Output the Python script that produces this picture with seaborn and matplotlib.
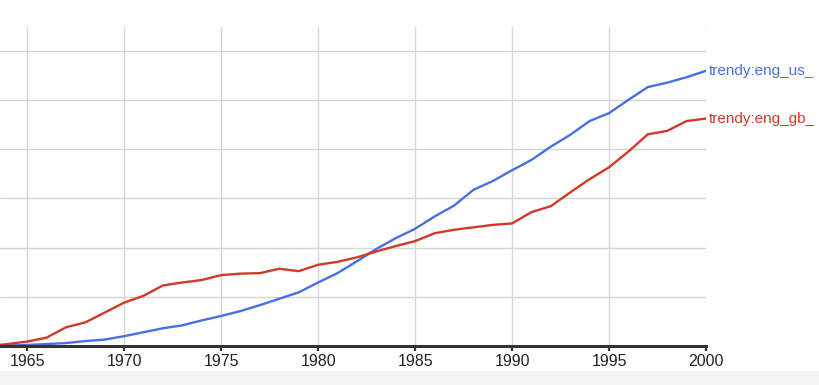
import matplotlib
matplotlib.use("Agg")
import matplotlib.pyplot as plt
import seaborn as sns
import pandas as pd
import numpy as np

years = list(range(1963, 2001))
us_values = [0.00, 0.01, 0.02, 0.04, 0.06, 0.10, 0.13, 0.20, 0.28, 0.36, 0.42, 0.52,
             0.61, 0.71, 0.83, 0.96, 1.09, 1.29, 1.48, 1.72, 1.97, 2.19, 2.38, 2.63,
             2.85, 3.17, 3.35, 3.57, 3.78, 4.05, 4.29, 4.57, 4.73, 5.00, 5.26, 5.35,
             5.46, 5.59]
gb_values = [0.00, 0.04, 0.09, 0.17, 0.38, 0.48, 0.68, 0.88, 1.02, 1.23, 1.29, 1.34,
             1.44, 1.47, 1.48, 1.57, 1.52, 1.65, 1.71, 1.80, 1.92, 2.03, 2.13, 2.29,
             2.36, 2.41, 2.46, 2.49, 2.72, 2.84, 3.12, 3.39, 3.63, 3.95, 4.30, 4.37,
             4.57, 4.62]
series_names = ["trendy:eng_us_", "trendy:eng_gb_"]
series_colors = ["#4a6fe3", "#d03a28"]
xtick_labels = [1965, 1970, 1975, 1980, 1985, 1990, 1995, 2000]

df = pd.concat([
    pd.DataFrame({"year": years, "value": us_values, "series": series_names[0]}),
    pd.DataFrame({"year": years, "value": gb_values, "series": series_names[1]}),
])

sns.set_theme(style="white")
plt.rcParams["font.family"] = ["Liberation Sans", "DejaVu Sans"]

W, H = 819, 385
fig = plt.figure(figsize=(W / 100, H / 100), dpi=100)
fig.patch.set_facecolor("white")

# light gray band at bottom
fig.add_artist(plt.Rectangle((0, 0), 1, 14 / H, transform=fig.transFigure,
                             facecolor="#f5f5f5", edgecolor="none", zorder=0))

ax = fig.add_axes([0, (H - 346) / H, 706 / W, (346 - 27) / H])
ax.set_facecolor("none")

sns.lineplot(data=df, x="year", y="value", hue="series",
             palette=dict(zip(series_names, series_colors)),
             linewidth=1.7, legend=False, ax=ax, zorder=3)

ax.set_xlim(1963.6, 2000)
ax.set_ylim(0, 6.48)
ax.set_xticks(xtick_labels)
ax.set_xticklabels([str(t) for t in xtick_labels], fontsize=11.5, color="#222222")
ax.set_yticks([1, 2, 3, 4, 5, 6])
ax.set_yticklabels([])
ax.tick_params(axis="y", length=0, left=False)
ax.tick_params(axis="x", bottom=True, length=3.5, width=1.6, color="#333333",
               pad=2, direction="out")
ax.grid(True, color="#d6d6d6", linewidth=1.0, zorder=0)
ax.set_xlabel("")
ax.set_ylabel("")

for side in ["top", "right", "left"]:
    ax.spines[side].set_visible(False)
ax.spines["bottom"].set_color("#333333")
ax.spines["bottom"].set_linewidth(2.2)
ax.spines["bottom"].set_zorder(4)

for name, vals, col in zip(series_names, [us_values, gb_values], series_colors):
    ax.annotate(name, xy=(years[-1], vals[-1]), xytext=(2, 0),
                textcoords="offset points", va="center", ha="left",
                fontsize=11, color=col, annotation_clip=False)

fig.savefig("out.png", dpi=100)
